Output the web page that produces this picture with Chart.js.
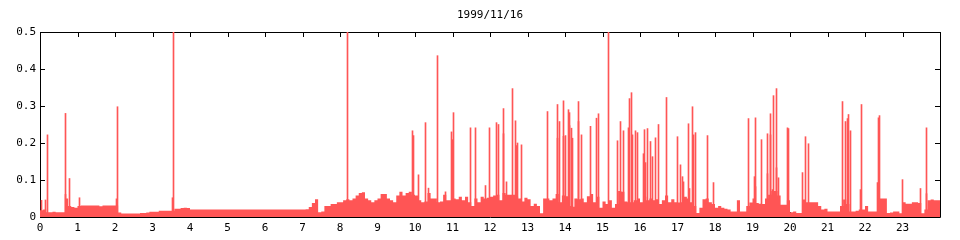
<!DOCTYPE html>
<html>
<head>
<meta charset="utf-8">
<script src="https://cdn.jsdelivr.net/npm/chart.js@4/dist/chart.umd.min.js"></script>
<style>
    html, body { margin: 0; padding: 0; background: #fff; }
    #wrap { width: 960px; height: 240px; }
</style>
</head>
<body>
<div id="wrap"><canvas id="loadChart"></canvas></div>
<script>
// 1999/11/16 - 5 minute levels, one row per hour (0h .. 23h)
const baseLevel = [
    0.018, 0.02, 0.013, 0.013, 0.014, 0.013, 0.013, 0.013, 0.05, 0.03, 0.027, 0.025,
    0.03, 0.031, 0.031, 0.031, 0.031, 0.031, 0.031, 0.029, 0.031, 0.031, 0.031, 0.031,
    0.031, 0.012, 0.0095, 0.0095, 0.0095, 0.0095, 0.0095, 0.0095, 0.011, 0.011, 0.012, 0.014,
    0.014, 0.014, 0.017, 0.017, 0.017, 0.017, 0.017, 0.0225, 0.0225, 0.024, 0.025, 0.024,
    0.02, 0.02, 0.02, 0.02, 0.02, 0.02, 0.02, 0.02, 0.02, 0.02, 0.02, 0.02,
    0.02, 0.02, 0.02, 0.02, 0.02, 0.02, 0.02, 0.02, 0.02, 0.02, 0.02, 0.02,
    0.02, 0.02, 0.02, 0.02, 0.02, 0.02, 0.02, 0.02, 0.02, 0.02, 0.02, 0.02,
    0.02, 0.021, 0.027, 0.038, 0.048, 0.013, 0.015, 0.03, 0.03, 0.035, 0.035, 0.04,
    0.04, 0.045, 0.048, 0.045, 0.05, 0.058, 0.065, 0.067, 0.05, 0.045, 0.04, 0.045,
    0.05, 0.062, 0.062, 0.05, 0.045, 0.04, 0.058, 0.068, 0.058, 0.065, 0.068, 0.06,
    0.058, 0.045, 0.04, 0.042, 0.065, 0.05, 0.05, 0.04, 0.042, 0.06, 0.045, 0.045,
    0.05, 0.048, 0.055, 0.045, 0.055, 0.04, 0.03, 0.05, 0.04, 0.055, 0.05, 0.052,
    0.055, 0.058, 0.06, 0.045, 0.065, 0.06, 0.06, 0.06, 0.055, 0.05, 0.042, 0.052,
    0.048, 0.03, 0.036, 0.03, 0.01, 0.05, 0.05, 0.045, 0.05, 0.062, 0.04, 0.058,
    0.056, 0.03, 0.028, 0.05, 0.048, 0.05, 0.04, 0.056, 0.062, 0.04, 0.055, 0.025,
    0.042, 0.035, 0.045, 0.025, 0.035, 0.07, 0.068, 0.042, 0.04, 0.04, 0.045, 0.05,
    0.04, 0.055, 0.045, 0.05, 0.045, 0.048, 0.035, 0.045, 0.058, 0.04, 0.048, 0.04,
    0.039, 0.04, 0.055, 0.05, 0.04, 0.03, 0.011, 0.025, 0.048, 0.05, 0.04, 0.035,
    0.025, 0.03, 0.025, 0.022, 0.02, 0.015, 0.015, 0.045, 0.015, 0.015, 0.03, 0.039,
    0.05, 0.038, 0.036, 0.035, 0.05, 0.06, 0.07, 0.07, 0.058, 0.033, 0.033, 0.045,
    0.013, 0.015, 0.011, 0.011, 0.047, 0.04, 0.04, 0.04, 0.04, 0.03, 0.02, 0.022,
    0.015, 0.015, 0.015, 0.015, 0.03, 0.047, 0.035, 0.015, 0.015, 0.017, 0.02, 0.02,
    0.03, 0.015, 0.015, 0.015, 0.05, 0.05, 0.05, 0.011, 0.012, 0.015, 0.015, 0.01,
    0.04, 0.036, 0.036, 0.04, 0.04, 0.038, 0.01, 0.02, 0.045, 0.047, 0.045, 0.045
];

// short peaks (hour of day, value)
const spikeHours = [
    0.05, 0.14, 0.19, 0.67, 0.69, 0.78, 1.05, 2.04, 2.07, 3.54, 3.57, 8.21,
    9.92, 9.95, 10.08, 10.29, 10.37, 10.61, 10.8, 10.97, 11.0, 11.04, 11.49, 11.6,
    11.88, 11.98, 12.16, 12.22, 12.35, 12.37, 12.43, 12.59, 12.67, 12.7, 12.72, 12.83,
    13.52, 13.79, 13.81, 13.84, 13.95, 13.97, 14.0, 14.08, 14.11, 14.13, 14.16, 14.19,
    14.35, 14.37, 14.43, 14.69, 14.85, 14.88, 15.15, 15.39, 15.49, 15.55, 15.68, 15.73,
    15.76, 15.81, 15.89, 15.92, 16.1, 16.12, 16.15, 16.2, 16.28, 16.34, 16.42, 16.5,
    16.71, 17.01, 17.09, 17.12, 17.15, 17.28, 17.31, 17.39, 17.42, 17.47, 17.81, 17.95,
    18.88, 19.04, 19.07, 19.09, 19.23, 19.39, 19.41, 19.47, 19.49, 19.52, 19.57, 19.63,
    19.65, 19.68, 19.92, 19.95, 20.32, 20.4, 20.48, 21.41, 21.49, 21.54, 21.57, 21.62,
    21.87, 21.9, 22.32, 22.35, 22.4, 23.01, 23.49, 23.63, 23.65
];
const spikeValues = [
    0.045, 0.046, 0.222, 0.061, 0.28, 0.104, 0.052, 0.049, 0.298, 0.052, 0.5, 0.5,
    0.233, 0.22, 0.114, 0.255, 0.078, 0.436, 0.068, 0.23, 0.209, 0.282, 0.241, 0.241,
    0.085, 0.241, 0.255, 0.25, 0.225, 0.293, 0.095, 0.347, 0.26, 0.193, 0.2, 0.195,
    0.285, 0.213, 0.304, 0.258, 0.314, 0.218, 0.22, 0.29, 0.282, 0.247, 0.24, 0.213,
    0.312, 0.258, 0.222, 0.245, 0.267, 0.279, 0.5, 0.206, 0.258, 0.233, 0.241, 0.32,
    0.336, 0.222, 0.233, 0.228, 0.171, 0.236, 0.147, 0.239, 0.204, 0.163, 0.214, 0.25,
    0.323, 0.217, 0.141, 0.109, 0.095, 0.252, 0.077, 0.298, 0.222, 0.228, 0.22, 0.093,
    0.266, 0.109, 0.082, 0.268, 0.209, 0.225, 0.117, 0.222, 0.279, 0.074, 0.328, 0.347,
    0.133, 0.106, 0.241, 0.239, 0.12, 0.217, 0.198, 0.312, 0.258, 0.266, 0.277, 0.233,
    0.074, 0.304, 0.093, 0.268, 0.274, 0.101, 0.077, 0.063, 0.241
];

const RED = '#ff5555';
const MONO = '"DejaVu Sans Mono", monospace';

const levelPoints = baseLevel.map((v, i) => ({ x: i / 12, y: v }));
levelPoints.push({ x: 24, y: baseLevel[baseLevel.length - 1] });
const spikePoints = spikeHours.map((h, i) => ({ x: h, y: spikeValues[i] }));

// gnuplot style frame with inward ticks, drawn under the data
const frame = {
    id: 'frame',
    afterDatasetsUpdate(chart) {
        // keep the 1px peaks on whole pixels so they stay crisp
        chart.getDatasetMeta(1).data.forEach(bar => {
            bar.x = Math.floor(bar.x) + 0.5;
        });
    },
    beforeDatasetsDraw(chart) {
        const { ctx, chartArea: a, scales } = chart;
        const L = 5;
        ctx.save();
        ctx.strokeStyle = '#000';
        ctx.lineWidth = 1;
        ctx.beginPath();
        ctx.rect(a.left + 0.5, a.top + 0.5, a.right - a.left, a.bottom - a.top);
        scales.x.ticks.forEach(t => {
            const px = Math.round(scales.x.getPixelForValue(t.value)) + 0.5;
            ctx.moveTo(px, a.top); ctx.lineTo(px, a.top + L);
            ctx.moveTo(px, a.bottom); ctx.lineTo(px, a.bottom - L);
        });
        scales.y.ticks.forEach(t => {
            const py = Math.round(scales.y.getPixelForValue(t.value)) + 0.5;
            ctx.moveTo(a.left, py); ctx.lineTo(a.left + L, py);
            ctx.moveTo(a.right, py); ctx.lineTo(a.right - L, py);
        });
        ctx.stroke();
        ctx.restore();
    }
};

new Chart(document.getElementById('loadChart'), {
    type: 'bar',
    data: {
        datasets: [{
            type: 'line',
            data: levelPoints,
            stepped: true,
            fill: 'origin',
            backgroundColor: RED,
            borderColor: RED,
            borderWidth: 0,
            pointRadius: 0
        }, {
            type: 'bar',
            data: spikePoints,
            backgroundColor: RED,
            barThickness: 1,
            borderWidth: 0
        }]
    },
    options: {
        responsive: true,
        maintainAspectRatio: false,
        animation: false,
        layout: { padding: { left: 0, right: 20, top: 0, bottom: 0 } },
        scales: {
            x: {
                type: 'linear',
                offset: false,
                min: 0,
                max: 24,
                grid: { display: false, drawTicks: false },
                border: { display: false },
                afterFit: scale => { scale.height = 23; },
                ticks: {
                    stepSize: 1,
                    autoSkip: false,
                    maxRotation: 0,
                    padding: 5,
                    color: '#000',
                    font: { family: MONO, size: 11 },
                    callback: v => (v < 24 ? v : '')
                }
            },
            y: {
                min: 0,
                max: 0.5,
                grid: { display: false, drawTicks: false },
                border: { display: false },
                afterFit: scale => { scale.width = 40; },
                ticks: {
                    stepSize: 0.1,
                    padding: 4,
                    color: '#000',
                    font: { family: MONO, size: 11 }
                }
            }
        },
        plugins: {
            legend: { display: false },
            tooltip: { enabled: false },
            title: {
                display: true,
                fullSize: false,
                text: '1999/11/16',
                color: '#000',
                font: { family: MONO, size: 11, weight: 'normal' },
                padding: { top: 9, bottom: 9.8 }
            }
        }
    },
    plugins: [frame]
});
</script>
</body>
</html>
